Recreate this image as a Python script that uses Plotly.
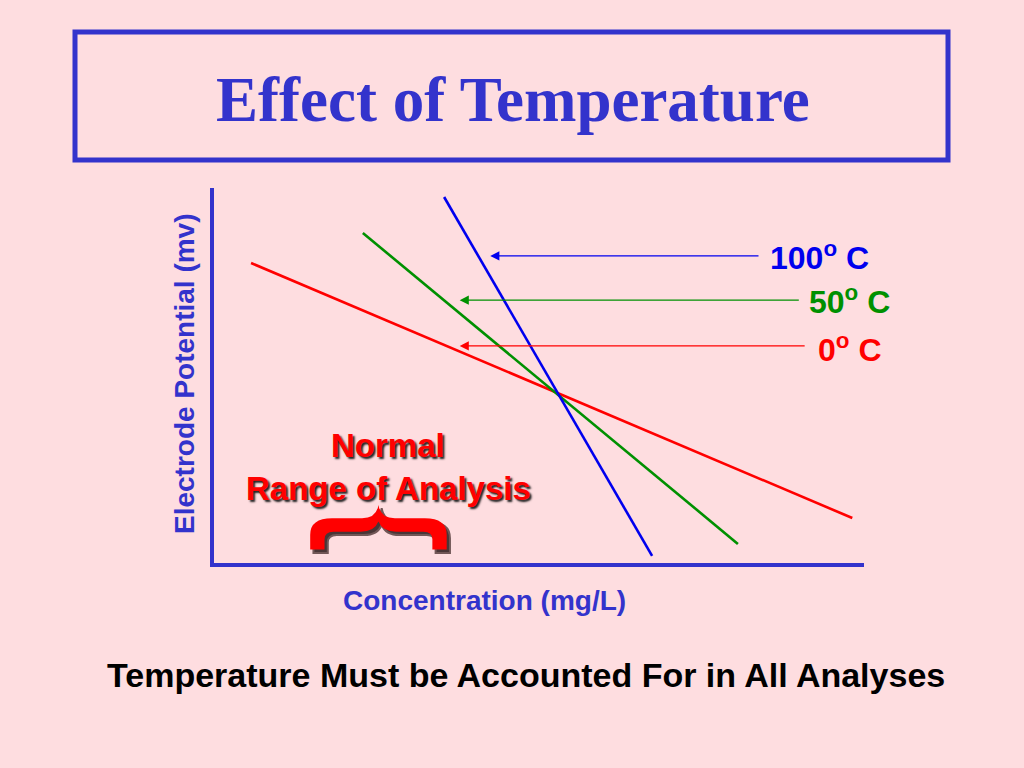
import plotly.graph_objects as go

# ---------------- data ----------------
temperatures = ["0", "50", "100"]
line_colors = ["#FF0000", "#009000", "#0000EE"]
# concentration (arbitrary units 0-100) and electrode potential (arbitrary units 0-100)
conc_0C = [5.7, 98.2]
pot_0C = [80.0, 12.0]
conc_50C = [22.9, 80.6]
pot_50C = [88.0, 5.1]
conc_100C = [35.4, 67.4]
pot_100C = [97.6, 1.9]

# callout arrows: (tip x, tail x, y) per temperature
arrow_tip_x = [37.8, 37.8, 42.5]
arrow_tail_x = [91.1, 90.2, 84.0]
arrow_y = [57.9, 70.1, 81.9]
label_x = [92.6, 91.3, 85.3]
label_y = [57.4, 70.1, 81.9]

normal_range = [14.8, 35.8]      # concentration span of the normal range of analysis
brace_y = [3.6, 15.5]            # vertical extent of the brace (potential units)

title_text = "Effect of Temperature"
x_title = "Concentration (mg/L)"
y_title = "Electrode Potential (mv)"
footer_text = "Temperature Must be Accounted For in All Analyses"
range_text = ["Normal", "Range of Analysis"]

# ---------------- layout helpers ----------------
W, H = 1024, 768
BG = "#FEDDE0"
BLUE_TXT = "#3333CC"
SANS = "Arial, Liberation Sans, sans-serif"
SERIF = "Times New Roman, Liberation Serif, serif"


def px(x):
    return x / W


def py(y):
    return 1 - y / H


fig = go.Figure()

series = [(conc_0C, pot_0C), (conc_50C, pot_50C), (conc_100C, pot_100C)]
for (xs, ys), t, c in zip(series, temperatures, line_colors):
    fig.add_trace(go.Scatter(x=xs, y=ys, mode="lines", name=t + " C",
                             line=dict(color=c, width=2.6), showlegend=False,
                             hoverinfo="skip"))

annotations = []
# arrows + labels
for i, t in enumerate(temperatures):
    annotations.append(dict(x=arrow_tip_x[i], y=arrow_y[i], ax=arrow_tail_x[i], ay=arrow_y[i],
                            xref="x", yref="y", axref="x", ayref="y", text="",
                            showarrow=True, arrowhead=2, arrowsize=1.4, arrowwidth=1.3,
                            arrowcolor=line_colors[i], standoff=0, startstandoff=0))
    annotations.append(dict(x=label_x[i], y=label_y[i], xref="x", yref="y",
                            text=f"{t}<sup>o</sup> C", showarrow=False,
                            xanchor="left", yanchor="middle",
                            font=dict(family=SANS, size=32, color=line_colors[i], weight="bold")))

# title
annotations.append(dict(x=px(513), y=py(100), xref="paper", yref="paper", text=title_text,
                        showarrow=False, xanchor="center", yanchor="middle",
                        font=dict(family=SERIF, size=63, color=BLUE_TXT, weight="bold")))
# axis titles
annotations.append(dict(x=px(484), y=py(600), xref="paper", yref="paper", text=x_title,
                        showarrow=False, xanchor="center", yanchor="middle",
                        font=dict(family=SANS, size=28, color=BLUE_TXT, weight="bold")))
annotations.append(dict(x=px(184), y=py(374), xref="paper", yref="paper", text=y_title,
                        showarrow=False, xanchor="center", yanchor="middle", textangle=-90,
                        font=dict(family=SANS, size=28, color=BLUE_TXT, weight="bold")))
# footer
annotations.append(dict(x=px(526), y=py(675), xref="paper", yref="paper", text=footer_text,
                        showarrow=False, xanchor="center", yanchor="middle",
                        font=dict(family=SANS, size=34, color="#000000", weight="bold")))
# normal range text
for txt, yy in zip(range_text, [445, 488]):
    annotations.append(dict(x=px(388), y=py(yy), xref="paper", yref="paper", text=txt,
                            showarrow=False, xanchor="center", yanchor="middle",
                            font=dict(family=SANS, size=33, color="#FF0000", weight="bold",
                                      shadow="2px 2px 2px #222222")))

# brace path (local geometry in units of brace width / height)
x0, x1 = normal_range
y0, y1 = brace_y
bw, bh = x1 - x0, y1 - y0
local = [
    ("M", [(0.0, 0.0)]), ("L", [(0.0, 0.33)]), ("Q", [(0.0, 0.70), (0.16, 0.70)]),
    ("L", [(0.38, 0.70)]), ("Q", [(0.485, 0.70), (0.5, 1.0)]),
    ("Q", [(0.515, 0.70), (0.62, 0.70)]), ("L", [(0.84, 0.70)]),
    ("Q", [(1.0, 0.70), (1.0, 0.33)]), ("L", [(1.0, 0.0)]),
    ("L", [(0.895, 0.0)]), ("L", [(0.895, 0.23)]), ("Q", [(0.895, 0.40), (0.83, 0.40)]),
    ("L", [(0.63, 0.40)]), ("Q", [(0.53, 0.40), (0.5, 0.63)]),
    ("Q", [(0.47, 0.40), (0.37, 0.40)]), ("L", [(0.17, 0.40)]),
    ("Q", [(0.105, 0.40), (0.105, 0.23)]), ("L", [(0.105, 0.0)]), ("Z", []),
]


def brace_path(dx=0.0, dy=0.0):
    parts = []
    for cmd, pts in local:
        coords = " ".join(f"{x0 + u * bw + dx:.3f},{y0 + v * bh + dy:.3f}" for u, v in pts)
        parts.append(cmd + (" " + coords if coords else ""))
    return " ".join(parts)


shapes = [
    dict(type="rect", xref="paper", yref="paper", x0=px(75), x1=px(948), y0=py(160), y1=py(32),
         line=dict(color=BLUE_TXT, width=5), fillcolor="rgba(0,0,0,0)"),
    dict(type="path", xref="x", yref="y", path=brace_path(0.5, -0.9), fillcolor="#2a1a1a",
         line=dict(width=2, color="#5a4040"), opacity=0.85),
    dict(type="path", xref="x", yref="y", path=brace_path(), fillcolor="#FF0000",
         line=dict(width=0)),
]

fig.update_layout(
    width=W, height=H, margin=dict(l=0, r=0, t=0, b=0),
    paper_bgcolor=BG, plot_bgcolor=BG,
    xaxis=dict(domain=[px(214), px(864)], range=[0, 100], showgrid=False, zeroline=False,
               showticklabels=False, ticks="", showline=True, linecolor=BLUE_TXT, linewidth=3.5,
               fixedrange=True),
    yaxis=dict(domain=[py(563), py(188)], range=[0, 100], showgrid=False, zeroline=False,
               showticklabels=False, ticks="", showline=True, linecolor=BLUE_TXT, linewidth=3.5,
               fixedrange=True),
    annotations=annotations, shapes=shapes, showlegend=False,
)

fig.write_html("out.html", config={"displayModeBar": False},
               post_script="document.body.style.margin='0';document.body.style.background='%s';" % BG)
